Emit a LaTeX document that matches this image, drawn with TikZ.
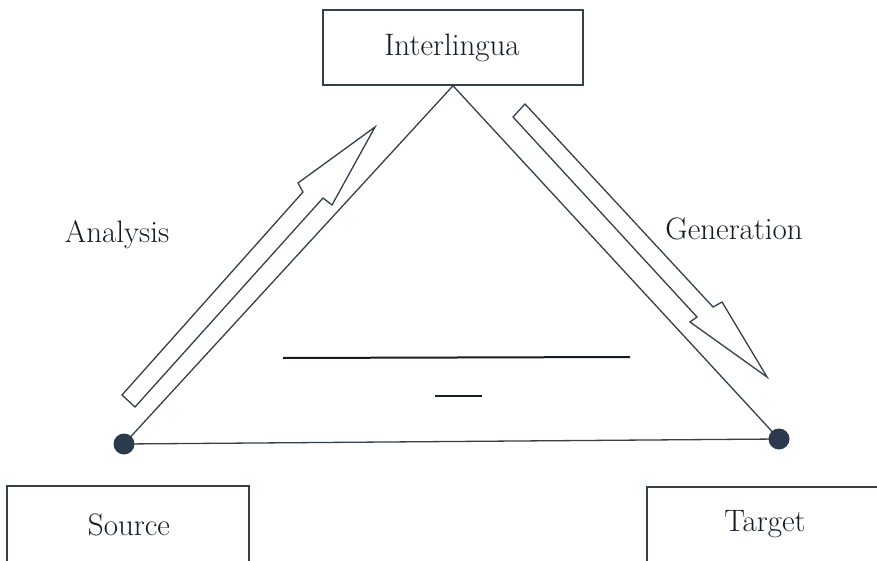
\documentclass[tikz,border=0pt]{standalone}
\usepackage{xcolor}
\definecolor{strk}{HTML}{34404C}
\definecolor{ink}{HTML}{141C26}
\definecolor{dotc}{HTML}{2B3A4C}
\begin{document}
\begin{tikzpicture}[x=1pt,y=-1pt,
  lbl/.style={font=\fontsize{31}{33}\selectfont, text=ink, inner sep=0pt},
  boxn/.style={draw=strk, line width=1.5pt, fill=white, inner sep=0pt},
  tri/.style={draw=strk, line width=1.3pt},
  blockarrow/.style={draw=strk, line width=1.3pt, line join=miter, fill=white},
  midline/.style={draw=ink, line width=2pt}]
\clip (0,0) rectangle (877,561);
\fill[white] (0,0) rectangle (877,561);
% boxes
\node[boxn, minimum width=260pt, minimum height=75pt] (inter) at (453,47.5) {};
\node[lbl, anchor=base] (interT) at (452,56) {Interlingua};
\node[boxn, minimum width=242pt, minimum height=90pt] (src) at (128,531) {};
\node[lbl, anchor=base] (srcT) at (129,535) {Source};
\node[boxn, minimum width=236pt, minimum height=90pt] (tgt) at (765,532) {};
\node[lbl, anchor=base] (tgtT) at (765,531) {Target};
% triangle
\coordinate (L) at (124,444);
\coordinate (R) at (779,439);
\draw[tri] (L) -- (inter.south) -- (R) -- cycle;
\fill[dotc] (L) circle (10.5pt);
\fill[dotc] (R) circle (10.5pt);
% analysis arrow
\draw[blockarrow] (122,395) -- (303,192) -- (298,183) -- (375,127) -- (332,205) -- (323,198) -- (135,407) -- cycle;
% generation arrow
\draw[blockarrow] (525,104) -- (713,307) -- (722,302) -- (767,377) -- (690,322) -- (697,317) -- (513,117) -- cycle;
% labels
\node[lbl, anchor=base] (ana) at (117,243) {Analysis};
\node[lbl, anchor=base] (gen) at (734,240) {Generation};
% middle lines
\draw[midline] (283,358) -- (630,357);
\draw[midline] (435,396) -- (482,396);
\end{tikzpicture}
\end{document}
